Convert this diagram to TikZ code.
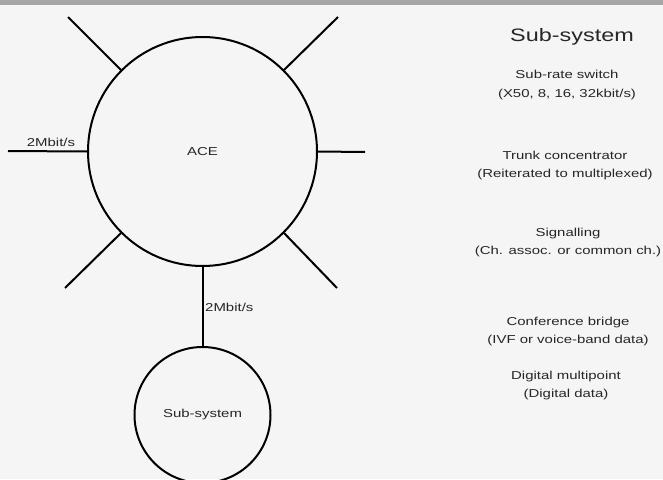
\documentclass[tikz,border=0pt]{standalone}
\usepackage{fontspec}
\setmainfont{Liberation Sans}[FakeStretch=1.3]
\usetikzlibrary{positioning}

\begin{document}
\begin{tikzpicture}[x=1pt, y=-1pt, node distance=263.5pt, on grid,
    exch/.style={circle, draw, line width=2pt, inner sep=0pt},
    link/.style={line width=2pt},
    lbl/.style={text=black!85, font=\fontsize{11.5}{18.5}\selectfont, align=center, inner sep=1pt}]
    \useasboundingbox[fill=white!96!black] (0,0) rectangle (663,479);
    \fill[black!35] (0,0) rectangle (663,5);

    \node[exch, minimum size=229pt] (ace) at (202.5,151.5) {};
    \node[exch, minimum size=136pt] (sub_0) [below=of ace] {};
    \node[lbl] at (ace.center) {ACE};
    \node[lbl] at (sub_0.center) {Sub-system};

    % free ends of the spokes
    \coordinate (w) at (8,151);
    \coordinate (e) at (365,152);
    \coordinate (nw) at (68,17);
    \coordinate (ne) at (338,17);
    \coordinate (sw) at (65,288);
    \coordinate (se) at (337,288);

    \draw[link] (ace.180) -- (w);
    \draw[link] (ace.0) -- (e);
    \draw[link] (ace.135) -- (nw);
    \draw[link] (ace.45) -- (ne);
    \draw[link] (ace.225) -- (sw);
    \draw[link] (ace.-45) -- (se);
    \draw[link] (ace.south) -- (sub_0.north);

    \node[lbl] (rate_w) at (51,142) {2Mbit/s};
    \node[lbl, anchor=west] (rate_s) at (204,307) {2Mbit/s};

    % list of sub-systems
    \node[lbl, font=\fontsize{18}{20}\selectfont] (head) at (572,37) {Sub-system};
    \node[lbl] (s_1) at (567,85) {Sub-rate switch\\(X50, 8, 16, 32kbit/s)};
    \node[lbl] (s_2) at (565,165.5) {Trunk concentrator\\(Reiterated to multiplexed)};
    \node[lbl] (s_3) at (568,242.5) {Signalling\\(Ch. assoc. or common ch.)};
    \node[lbl] (s_4) at (568,331.5) {Conference bridge\\(IVF or voice-band data)};
    \node[lbl] (s_5) at (566,385.5) {Digital multipoint\\(Digital data)};
\end{tikzpicture}
\end{document}
